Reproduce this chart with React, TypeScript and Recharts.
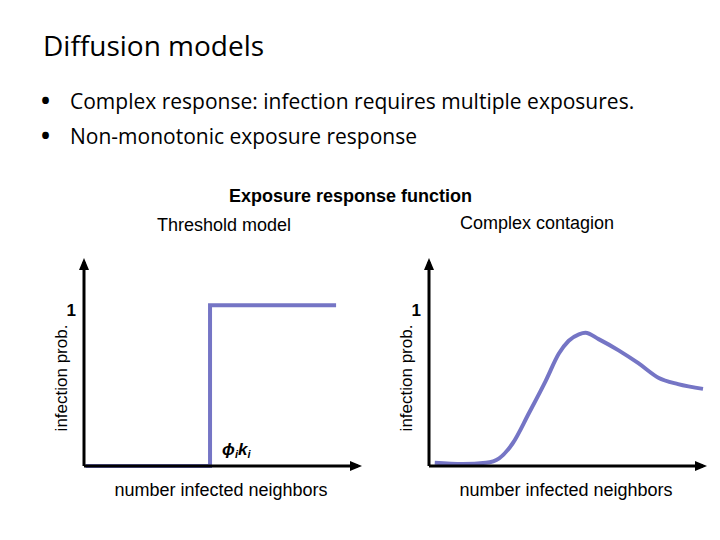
import React from 'react';
import {
  LineChart,
  Line,
  XAxis,
  YAxis,
  ReferenceDot,
} from 'recharts';

// threshold model: step at phi_i * k_i
const thresholdX = [0.06, 4.6, 4.6, 9.2];
const thresholdY = [0, 0, 1, 1];

// complex contagion: rises, peaks, then falls off
const complexX = [0.21, 1.23, 2.08, 2.56, 3.05, 3.65, 4.26, 4.74, 5.1, 5.47, 5.71, 6.19, 6.92, 7.64, 8.37, 9.09, 10];
const complexY = [0.02, 0.012, 0.02, 0.048, 0.14, 0.33, 0.53, 0.7, 0.78, 0.82, 0.83, 0.79, 0.72, 0.64, 0.55, 0.51, 0.48];

const yTicks = [1];
const thresholdAt = 4.6;

const lineColor = '#7575c5';
const font = '"Liberation Sans", Arial, sans-serif';

const toRows = (xs: number[], ys: number[]) => xs.map((x, i) => ({ x, y: ys[i] }));

const ArrowRight = (props: any) => {
  const { cx, cy } = props;
  return <polygon points={`${cx + 4},${cy} ${cx - 8},${cy - 5} ${cx - 8},${cy + 5}`} fill="#000" />;
};

const ArrowUp = (props: any) => {
  const { cx, cy } = props;
  return <polygon points={`${cx},${cy - 4} ${cx - 5},${cy + 8} ${cx + 5},${cy + 8}`} fill="#000" />;
};

const PhiLabel = (props: any) => {
  const { cx, cy } = props;
  return (
    <text x={cx + 12} y={cy - 11} fontFamily={font} fontSize={17} fontWeight="bold" fontStyle="italic" fill="#000">
      ϕ<tspan fontSize={11} dy={3}>i</tspan>
      <tspan dy={-3}>k</tspan>
      <tspan fontSize={11} dy={3}>i</tspan>
    </text>
  );
};

const YLabel = (props: any) => {
  const { viewBox } = props;
  const cx = viewBox.x + 21;
  const cy = viewBox.y + viewBox.height / 2 + 14;
  return (
    <text
      x={cx}
      y={cy}
      transform={`rotate(-90 ${cx} ${cy})`}
      textAnchor="middle"
      dominantBaseline="central"
      fontFamily={font}
      fontSize={17}
      fill="#000"
    >
      infection prob.
    </text>
  );
};

const ResponsePlot = (props: { data: Array<any>; type: 'linear' | 'monotone'; marker?: boolean }) => {
  const { data, type, marker } = props;
  return (
    <LineChart width={330} height={270} data={data} margin={{ top: 22, right: 12, bottom: 14, left: 0 }}>
      <XAxis
        dataKey="x"
        type="number"
        domain={[0, 10]}
        ticks={[]}
        tickLine={false}
        axisLine={{ stroke: '#000', strokeWidth: 3 }}
        height={30}
        label={{ value: 'number infected neighbors', position: 'insideBottom', offset: 0, fill: '#000', fontSize: 18, fontFamily: font }}
      />
      <YAxis
        type="number"
        domain={[0, 1.27]}
        ticks={yTicks}
        tickLine={false}
        width={44}
        axisLine={{ stroke: '#000', strokeWidth: 3 }}
        tick={{ fill: '#000', fontSize: 17, fontWeight: 'bold', fontFamily: font, dy: 5 }}
        label={<YLabel />}
      />
      <Line
        dataKey="y"
        type={type}
        stroke={lineColor}
        strokeWidth={4}
        dot={false}
        isAnimationActive={false}
      />
      <ReferenceDot x={10} y={0} r={0} shape={ArrowRight} ifOverflow="visible" />
      <ReferenceDot x={0} y={1.27} r={0} shape={ArrowUp} ifOverflow="visible" />
      {marker && <ReferenceDot x={thresholdAt} y={0} r={0} shape={PhiLabel} ifOverflow="visible" />}
    </LineChart>
  );
};

const text = (left: number, top: number, size: number, extra: React.CSSProperties = {}) => ({
  position: 'absolute' as const,
  left,
  top,
  fontSize: size,
  lineHeight: 1,
  whiteSpace: 'nowrap' as const,
  color: '#000',
  ...extra,
});

const slideFont = '"Open Sans", "Noto Sans", sans-serif';

export default function App() {
  return (
    <div style={{ position: 'absolute', left: 0, top: 0, width: 720, height: 540, background: '#fff', overflow: 'hidden' }}>
      <div style={text(43, 31, 28, { fontFamily: slideFont })}>Diffusion models</div>
      <div style={text(41, 88, 24, { fontFamily: slideFont, fontWeight: 'bold' })}>•</div>
      <div style={text(70, 91, 21, { fontFamily: slideFont })}>Complex response: infection requires multiple exposures.</div>
      <div style={text(41, 123, 24, { fontFamily: slideFont, fontWeight: 'bold' })}>•</div>
      <div style={text(70, 126, 21, { fontFamily: slideFont })}>Non-monotonic exposure response</div>
      <div style={text(229, 187, 18, { fontFamily: font, fontWeight: 'bold' })}>Exposure response function</div>
      <div style={text(157, 216, 18, { fontFamily: font })}>Threshold model</div>
      <div style={text(460, 214, 18, { fontFamily: font })}>Complex contagion</div>
      <div style={{ position: 'absolute', left: 40, top: 240 }}>
        <ResponsePlot data={toRows(thresholdX, thresholdY)} type="linear" marker />
      </div>
      <div style={{ position: 'absolute', left: 385, top: 240 }}>
        <ResponsePlot data={toRows(complexX, complexY)} type="monotone" />
      </div>
    </div>
  );
}
